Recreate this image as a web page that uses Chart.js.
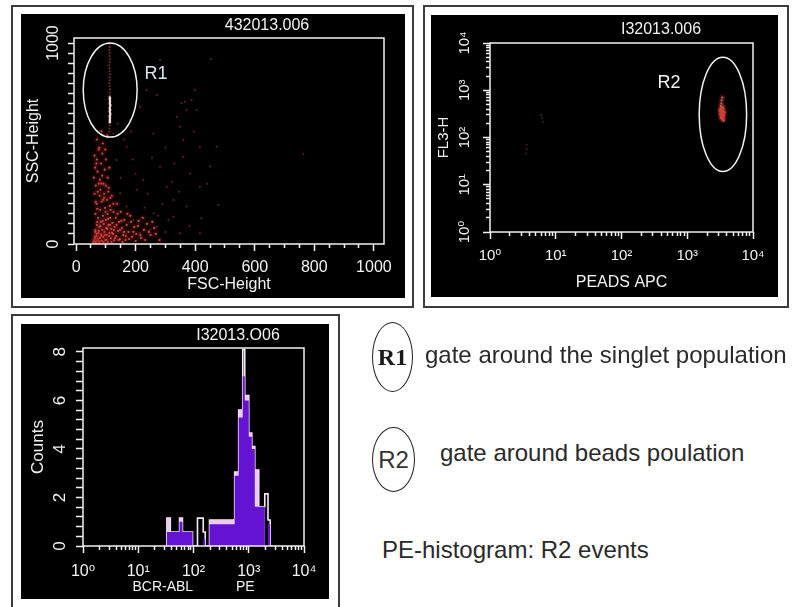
<!DOCTYPE html>
<html><head><meta charset="utf-8">
<script src="https://cdn.jsdelivr.net/npm/chart.js@4.4.1/dist/chart.umd.min.js"></script>
<style>
html,body{margin:0;padding:0;background:#fff;width:794px;height:607px;overflow:hidden;}
.frame{position:absolute;border:2px solid #3c3c3c;box-sizing:border-box;}
.blk{position:absolute;background:#000;}
.blk canvas{display:block;}
.ttl{position:absolute;color:#f2f2f2;font:16px "Liberation Sans",Arial,sans-serif;white-space:nowrap;transform:translate(-50%,-50%);}
.note{position:absolute;font:24px "Liberation Sans",Arial,sans-serif;color:#2a2a2a;white-space:nowrap;line-height:24px;}
.oval{position:absolute;border:1.3px solid #222;border-radius:50%;box-sizing:border-box;}
.oval span{position:absolute;left:50%;top:50%;transform:translate(-50%,-50%);white-space:nowrap;color:#1a1a1a;}
</style></head><body>
<div class="frame" style="left:11px;top:5px;width:403px;height:303px"></div>
<div class="blk" style="left:21px;top:14px;width:384px;height:284px"><canvas id="c1" width="384" height="284"></canvas></div>
<div class="frame" style="left:423px;top:5px;width:366px;height:303px"></div>
<div class="blk" style="left:431px;top:15px;width:347px;height:282px"><canvas id="c2" width="347" height="282"></canvas></div>
<div class="frame" style="left:11px;top:314px;width:329px;height:300px"></div>
<div class="blk" style="left:21px;top:324px;width:308px;height:275px"><canvas id="c3" width="308" height="275"></canvas></div>
<div class="ttl" style="left:267px;top:25px">432013.006</div>
<div class="ttl" style="left:661px;top:29px">I32013.006</div>
<div class="ttl" style="left:238px;top:335px">I32013.O06</div>

<div class="oval" style="left:372px;top:322px;width:41px;height:70px"><span style="font:bold 24px 'Liberation Serif',serif">R1</span></div>
<div class="note" style="left:425px;top:343px">gate around the singlet population</div>
<div class="oval" style="left:372px;top:427px;width:43px;height:65px"><span style="font:24px 'Liberation Sans',Arial,sans-serif;color:#333">R2</span></div>
<div class="note" style="left:440px;top:441px">gate around beads poulation</div>
<div class="note" style="left:382px;top:538px">PE-histogram: R2 events</div>

<script>
// ---------- Panel 1 : FSC-Height vs SSC-Height ----------
const fscTicks = [0,50,100,150,200,250,300,350,400,450,500,550,600,650,700,750,800,850,900,950,1000];
const sscTicks = [0,50,100,150,200,250,300,350,400,450,500,550,600,650,700,750,800,850,900,950,1000];
const fscLabelValues = [0,200,400,600,800,1000];
const fscLabelText = ['0','200','400','600','800','1000'];
const sscLabelValues = [0,1000];
const sscLabelText = ['0','1000'];

const coreFsc = [58,62,64,66,68,70,72,74,75,77,78,80,81,83,84,86,87,88,90,91,93,94,95,97,98,100,101,103,104,106,107,109,110,112,113,115,117,118,120,122,124,126,128,130,133,135,138,141,144,147,150,154,158,162,166,170,176,182,188,195,202,210,218,228,238,250,262,60,64,66,70,72,76,80,84,88,92,96,100,106,112,65,69,73,79,85,91,
  60,63,65,67,69,71,73,76,79,82,85,89,92,96,99,102,105,108,111,114,116,119,121,125,127,131,136,139,143,148,152,156,161,167,172,178,185,192,200,208,216,224,232,244,256,268,280,62,66,71,76,82,88,94,100,108,115,70,78,90,98,105,85,62,68];
const coreSsc = [8,25,60,12,40,95,18,130,55,5,85,30,170,110,48,210,15,70,140,35,100,250,60,180,20,120,80,45,220,150,10,95,280,55,190,130,28,75,240,105,50,160,18,85,130,40,200,65,110,25,160,80,45,120,20,95,60,140,35,85,50,115,30,70,100,45,80,330,380,290,420,360,470,320,400,450,300,370,420,330,380,150,200,260,240,300,220,
  15,35,70,5,50,110,28,65,15,90,40,115,8,45,160,20,75,125,40,95,170,10,55,200,70,30,95,150,20,70,115,10,60,40,150,25,110,60,15,90,45,130,20,60,110,50,20,250,210,175,300,270,340,230,290,260,230,520,480,500,470,540,560,440,400];

const sparseFsc = [452,399,366,237,271,349,371,405,360,472,450,360,321,416,478,421,763,416,304,327,260,271,215,192,170,148,136,170,125,181,215,260,282,226,327,349,371,248,416,383,338,354,388,282,200,240,290,310,190,150,230,275,205,345,380,300,160,140,185,255,300,330,395,440];
const sparseSsc = [919,766,708,766,741,584,667,667,517,484,385,434,310,285,194,128,448,484,285,219,153,86,53,119,186,252,418,484,550,617,683,550,385,318,136,53,186,70,53,351,633,700,716,915,350,250,200,120,420,330,180,140,270,260,90,60,520,600,560,430,480,400,560,300];

const streakFsc = [113,114,113,114,114,113,114,115,114,113,114,114,113,114,115,114,113,114,114,113,114,113];
const streakSsc = [605,611,617,623,629,635,641,647,653,659,665,671,677,683,689,695,701,707,713,719,725,731];
const streakDimFsc = [113,112,114,113,111,113,112,114,113,112,111,113,114,112,113,111,113,112,111,112,113];
const streakDimSsc = [740,755,770,785,800,815,830,845,860,875,890,905,920,935,950,965,980,995,560,575,590];

const gateR1 = {name:'R1', xMin:24, xMax:205, yMin:532, yMax:1000, labelX:268, labelY:845};

// ---------- Panel 2 : PEADS APC vs FL3-H ----------
const logTicks = [1,2,3,4,5,6,7,8,9,10,20,30,40,50,60,70,80,90,100,200,300,400,500,600,700,800,900,1000,2000,3000,4000,5000,6000,7000,8000,9000,10000];
const logLabelValues = [1,10,100,1000,10000];
const logLabelText = ['10\u2070','10\u00B9','10\u00B2','10\u00B3','10\u2074'];

const beadsApc = [3300,3450,3200,3500,3380,3600,3280,3420,3150,3700,3400,3250,3550,3120,3480,3330,3420,3600,3250,3380,3500,3350,3450,3300,3400,3520,3280];
const beadsFl3 = [520,440,390,360,330,310,290,270,310,340,240,460,410,370,280,610,700,230,260,350,300,380,330,420,300,260,340];
const strayApc = [6.2,6.0,6.4,3.6,3.6,3.5];
const strayFl3 = [260,300,215,58,70,46];

const gateR2 = {name:'R2', xMin:1520, xMax:8000, yMin:19, yMax:5000, labelX:527, labelY:1420};

// ---------- Panel 3 : BCR-ABL PE histogram ----------
const peEdges   = [33,38,56,63,96,118,150,163,195,556,657,778,846,1000,1135,1286,1515,1950,2230,2440,2730];
const peOutline = [0.58,1.15,0.58,1.15,0.58,0,1.15,0.58,0,1.07,3.05,5.6,8.1,6.2,4.66,4.1,3.13,1.62,2.15,1.07];
const pePink    = [0.58,1.15,0.58,1.15,0.58,0,0,0,0,1.07,3.05,5.6,7.0,6.2,4.66,4.1,3.13,1.62,0,0];
const pePurple  = [0.4,0.58,0.58,1.0,0.58,0,0,0.3,0,0.9,2.9,5.3,7.0,6.0,4.5,4.0,1.62,1.62,0,0.9];
const countTicks = [0,0.4,0.8,1.2,1.6,2,2.4,2.8,3.2,3.6,4,4.4,4.8,5.2,5.6,6,6.4,6.8,7.2,7.6,8];
const countLabelValues = [0,2,4,6,8];
const countLabelText = ['0','2','4','6','8'];

// ---------- helpers ----------
const FONT = '"Liberation Sans", Arial, "DejaVu Sans", sans-serif';
const INK = '#f2f2f2';

function pairs(xs, ys){ return xs.map((x,i)=>({x:x, y:ys[i]})); }
function steps(edges, counts){
  const pts = [{x:edges[0], y:0}];
  counts.forEach((c,i)=>pts.push({x:edges[i], y:c}));
  pts.push({x:edges[edges.length-1], y:0});
  return pts;
}
function near(a,b){ return Math.abs(a-b) < 1e-6; }
function labelOf(vals, texts, v){ for (let i=0;i<vals.length;i++) if (near(vals[i],v)) return texts[i]; return null; }

function axis(o){
  return {
    type:o.type, min:o.min, max:o.max,
    afterBuildTicks: s => { s.ticks = o.tickValues.map(v=>({value:v})); },
    afterFit: s => { if (o.vertical) s.width = o.size; else s.height = o.size; },
    ticks:{autoSkip:false, color:INK, font:{family:FONT, size:o.fontSize}, padding:o.pad,
      minRotation:o.vertical?90:0, maxRotation:o.vertical?90:0,
      crossAlign:o.vertical?'center':'near',
      callback:(v)=>{ const t = labelOf(o.labelValues, o.labelText, v); return t===null?'':t; }},
    grid:{display:true, drawOnChartArea:false, drawTicks:true, tickLength:o.tickLen, tickColor:INK, tickWidth:1.5,
      tickBorderDash:(c)=>{
        const major = c.tick && labelOf(o.labelValues, o.labelText, c.tick.value)!==null;
        if (major || o.minorLen>=o.tickLen) return [];
        return o.vertical ? [0, o.tickLen-o.minorLen, o.minorLen, 40] : [o.minorLen, 40];
      }},
    border:{display:false},
    title:{display:true, text:o.title, color:INK, font:{family:FONT, size:o.titleFont},
      padding: o.vertical ? {top:o.titlePad, bottom:0} : {top:0, bottom:o.titlePad}}
  };
}

function framePlugin(gate, labelColor){
  return {
    id:'frame',
    afterDatasetsDraw(chart){
      const {ctx, chartArea:a, scales} = chart;
      ctx.save();
      ctx.strokeStyle = INK; ctx.lineWidth = 1.5;
      ctx.strokeRect(a.left, a.top, a.right-a.left, a.bottom-a.top);
      if (gate){
        const x0 = scales.x.getPixelForValue(gate.xMin), x1 = scales.x.getPixelForValue(gate.xMax);
        const y0 = scales.y.getPixelForValue(gate.yMin), y1 = scales.y.getPixelForValue(gate.yMax);
        ctx.beginPath();
        ctx.ellipse((x0+x1)/2, (y0+y1)/2, Math.abs(x1-x0)/2, Math.abs(y1-y0)/2, 0, 0, Math.PI*2);
        ctx.stroke();
        ctx.fillStyle = labelColor; ctx.font = '18px ' + FONT;
        ctx.textAlign = 'center'; ctx.textBaseline = 'middle';
        ctx.fillText(gate.name, scales.x.getPixelForValue(gate.labelX), scales.y.getPixelForValue(gate.labelY));
      }
      ctx.restore();
    }
  };
}

const common = {responsive:false, animation:false, events:[],
  plugins:{legend:{display:false}, tooltip:{enabled:false}}};

// ---------- Chart 1 ----------
new Chart(document.getElementById('c1'), {
  type:'scatter',
  data:{datasets:[
    {data:pairs(coreFsc, coreSsc), pointRadius:3.2, pointBorderWidth:0, backgroundColor:'rgba(200,40,40,0.16)'},
    {data:pairs(sparseFsc, sparseSsc), pointRadius:1.0, pointBorderWidth:0, backgroundColor:'rgba(170,55,55,0.6)'},
    {data:pairs(coreFsc, coreSsc), pointRadius:1.1, pointBorderWidth:0, backgroundColor:'rgba(255,120,115,0.75)'},
    {data:pairs(streakDimFsc, streakDimSsc), pointRadius:1.0, pointBorderWidth:0, backgroundColor:'rgba(170,70,70,0.7)'},
    {data:pairs(streakFsc, streakSsc), pointRadius:1.2, pointBorderWidth:0, backgroundColor:'rgba(255,225,225,0.9)'}
  ]},
  options:Object.assign({}, common, {
    layout:{padding:{top:24, right:21, left:0, bottom:0}},
    scales:{
      x:axis({type:'linear', min:-7, max:1034, tickValues:fscTicks, labelValues:fscLabelValues, labelText:fscLabelText,
        size:54, fontSize:16, pad:7, tickLen:7, minorLen:4, title:'FSC-Height', titleFont:16, titlePad:4}),
      y:axis({type:'linear', min:0, max:1025, tickValues:sscTicks, labelValues:sscLabelValues, labelText:sscLabelText,
        size:53, fontSize:16, pad:-3, tickLen:6, minorLen:6, title:'SSC-Height', titleFont:16, titlePad:3, vertical:true})
    }
  }),
  plugins:[framePlugin(gateR1, '#dbe6ee')]
});

// ---------- Chart 2 ----------
new Chart(document.getElementById('c2'), {
  type:'scatter',
  data:{datasets:[
    {data:pairs(strayApc, strayFl3), pointRadius:1.0, pointBorderWidth:0, backgroundColor:'rgba(120,60,60,0.55)'},
    {data:pairs(beadsApc, beadsFl3), pointRadius:3, pointBorderWidth:0, backgroundColor:'rgba(210,60,50,0.22)'},
    {data:pairs(beadsApc, beadsFl3), pointRadius:1.1, pointBorderWidth:0, backgroundColor:'rgba(255,175,165,0.7)'}
  ]},
  options:Object.assign({}, common, {
    layout:{padding:{top:28, right:25, left:0, bottom:0}},
    scales:{
      x:axis({type:'logarithmic', min:1, max:10000, tickValues:logTicks, labelValues:logLabelValues, labelText:logLabelText,
        size:65, fontSize:15, pad:8, tickLen:7, minorLen:4, title:'PEADS APC', titleFont:16, titlePad:5}),
      y:axis({type:'logarithmic', min:1, max:10000, tickValues:logTicks, labelValues:logLabelValues, labelText:logLabelText,
        size:59, fontSize:15, pad:7, tickLen:7, minorLen:4, title:'FL3-H', titleFont:15, titlePad:4, vertical:true})
    }
  }),
  plugins:[framePlugin(gateR2, '#f4f4f4')]
});

// ---------- Chart 3 ----------
new Chart(document.getElementById('c3'), {
  type:'scatter',
  data:{datasets:[
    {data:steps(peEdges, pePurple), showLine:true, stepped:'after', fill:'origin', pointRadius:0, borderWidth:0, borderColor:'rgba(0,0,0,0)', backgroundColor:'#6413d2'},
    {data:steps(peEdges, pePink), showLine:true, stepped:'after', fill:'origin', pointRadius:0, borderWidth:0, borderColor:'rgba(0,0,0,0)', backgroundColor:'#eecbf3'},
    {data:steps(peEdges, peOutline), showLine:true, stepped:'after', fill:false, pointRadius:0, borderWidth:1.6, borderColor:'#f7e8f8'}
  ]},
  options:Object.assign({}, common, {
    layout:{padding:{top:24, right:25, left:0, bottom:0}},
    scales:{
      x:axis({type:'logarithmic', min:1, max:10000, tickValues:logTicks, labelValues:logLabelValues, labelText:logLabelText,
        size:53, fontSize:16, pad:9, tickLen:7, minorLen:4, title:'BCR-ABL\u00A0\u00A0\u00A0\u00A0\u00A0\u00A0\u00A0\u00A0\u00A0\u00A0\u00A0PE', titleFont:14, titlePad:3}),
      y:axis({type:'linear', min:0, max:8.16, tickValues:countTicks, labelValues:countLabelValues, labelText:countLabelText,
        size:62, fontSize:17, pad:11, tickLen:7, minorLen:7, title:'Counts', titleFont:17, titlePad:7, vertical:true})
    }
  }),
  plugins:[framePlugin(null, INK)]
});
</script>
</body></html>
